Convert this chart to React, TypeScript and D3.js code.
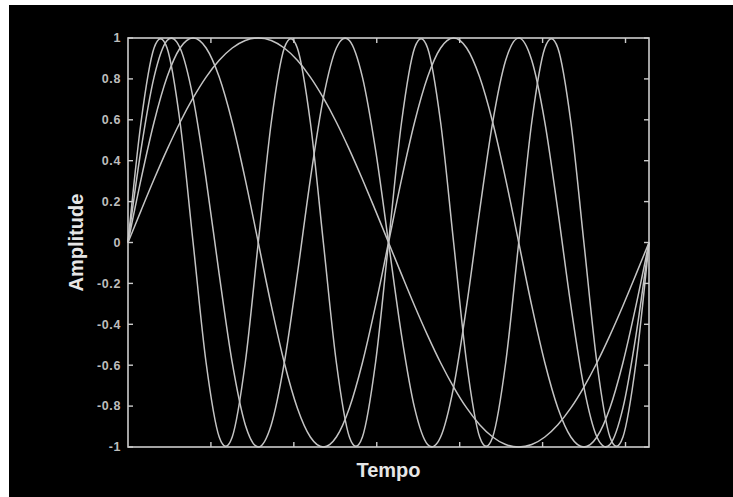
import React from "react";
import * as d3 from "d3";

const tValues = [0, 0.157, 0.314, 0.471, 0.628, 0.785, 0.942, 1.1, 1.257, 1.414, 1.571, 1.728, 1.885, 2.042, 2.199, 2.356, 2.513, 2.67, 2.827, 2.985, 3.142, 3.299, 3.456, 3.613, 3.77, 3.927, 4.084, 4.241, 4.398, 4.555, 4.712, 4.869, 5.027, 5.184, 5.341, 5.498, 5.655, 5.812, 5.969, 6.126, 6.283];

const wave1 = [0, .156, .309, .454, .588, .707, .809, .891, .951, .988, 1, .988, .951, .891, .809, .707, .588, .454, .309, .156, 0, -.156, -.309, -.454, -.588, -.707, -.809, -.891, -.951, -.988, -1, -.988, -.951, -.891, -.809, -.707, -.588, -.454, -.309, -.156, 0];
const wave2 = [0, .309, .588, .809, .951, 1, .951, .809, .588, .309, 0, -.309, -.588, -.809, -.951, -1, -.951, -.809, -.588, -.309, 0, .309, .588, .809, .951, 1, .951, .809, .588, .309, 0, -.309, -.588, -.809, -.951, -1, -.951, -.809, -.588, -.309, 0];
const wave3 = [0, .454, .809, .988, .951, .707, .309, -.156, -.588, -.891, -1, -.891, -.588, -.156, .309, .707, .951, .988, .809, .454, 0, -.454, -.809, -.988, -.951, -.707, -.309, .156, .588, .891, 1, .891, .588, .156, -.309, -.707, -.951, -.988, -.809, -.454, 0];
const wave4 = [0, .588, .951, .951, .588, 0, -.588, -.951, -.951, -.588, 0, .588, .951, .951, .588, 0, -.588, -.951, -.951, -.588, 0, .588, .951, .951, .588, 0, -.588, -.951, -.951, -.588, 0, .588, .951, .951, .588, 0, -.588, -.951, -.951, -.588, 0];

const seriesList = [wave1, wave2, wave3, wave4];
const yTicks = [1, 0.8, 0.6, 0.4, 0.2, 0, -0.2, -0.4, -0.6, -0.8, -1];
const xTicks = [1, 2, 3, 4, 5, 6];
const xLabel = "Tempo";
const yLabel = "Amplitude";

export default function App() {
  const W = 733, H = 497;
  const left = 128, right = 649, top = 38, bottom = 447;
  const x = d3.scaleLinear().domain([0, 2 * Math.PI]).range([left, right]);
  const y = d3.scaleLinear().domain([-1, 1]).range([bottom, top]);
  const line = d3.line<number>()
    .x((_, i) => x(tValues[i]))
    .y((d) => y(d))
    .curve(d3.curveCardinal.tension(0));
  const ink = "#cccccc";
  const tl = 5;
  return (
    <svg width={W} height={H} style={{ position: "fixed", left: 0, top: 0 }}
      fontFamily="'Liberation Sans', Arial, sans-serif">
      <rect x={0} y={0} width={W} height={H} fill="#ffffff" />
      <rect x={9} y={5} width={W - 9} height={H - 5} fill="#000000" />
      {seriesList.map((s, i) => (
        <path key={i} d={line(s) || ""} fill="none" stroke="#c4c4c4" strokeWidth={1.5} />
      ))}
      <rect x={left} y={top} width={right - left} height={bottom - top} fill="none" stroke={ink} strokeWidth={1.6} />
      {yTicks.map((t) => (
        <g key={"y" + t}>
          <line x1={left} x2={left + tl} y1={y(t)} y2={y(t)} stroke={ink} strokeWidth={1.4} />
          <line x1={right} x2={right - tl} y1={y(t)} y2={y(t)} stroke={ink} strokeWidth={1.4} />
          <text x={121} y={y(t)} dy="0.35em" textAnchor="end" fontSize={12.5} fontWeight="bold" fill="#bdbdbd" letterSpacing={0.6}>
            {String(t)}
          </text>
        </g>
      ))}
      {xTicks.map((t) => (
        <g key={"x" + t}>
          <line x1={x(t)} x2={x(t)} y1={bottom} y2={bottom - tl} stroke={ink} strokeWidth={1.4} />
          <line x1={x(t)} x2={x(t)} y1={top} y2={top + tl} stroke={ink} strokeWidth={1.4} />
        </g>
      ))}
      <text x={(left + right) / 2} y={477} textAnchor="middle" fontSize={20} fontWeight="bold" fill="#e6e6e6">
        {xLabel}
      </text>
      <text transform={`translate(83, ${(top + bottom) / 2}) rotate(-90)`} textAnchor="middle" fontSize={20} fontWeight="bold" fill="#e6e6e6">
        {yLabel}
      </text>
    </svg>
  );
}
